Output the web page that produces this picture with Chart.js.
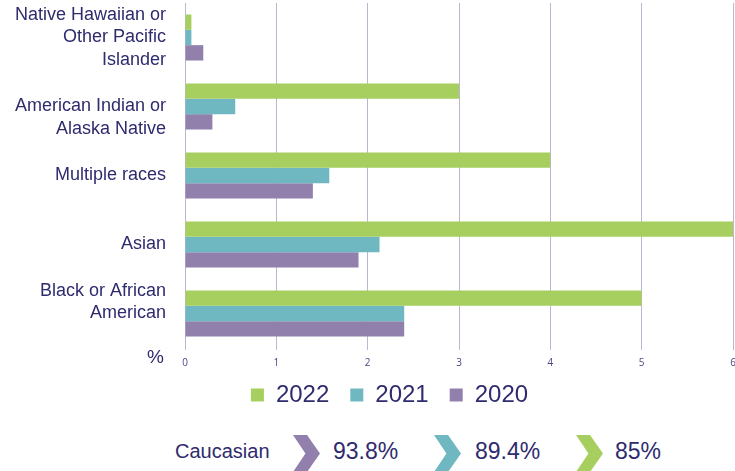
<!DOCTYPE html>
<html>
<head>
<meta charset="utf-8">
<script src="https://cdn.jsdelivr.net/npm/chart.js@4.4.1/dist/chart.umd.min.js"></script>
<style>
  html, body { margin: 0; padding: 0; background: #fff; }
  #wrap { position: relative; width: 735px; height: 471px; overflow: hidden; font-family: "Liberation Sans", Arial, sans-serif; color: #2e2b6e; }
  /* canvas runs past the right edge so the "6" tick gets cut like in the original */
  #chartBox { position: absolute; left: 0; top: 0; width: 779px; height: 431px; }
  #pct { position: absolute; left: 147px; top: 346px; font-size: 19px; }
  .row-item { position: absolute; white-space: nowrap; }
  .chev { position: absolute; top: 435px; width: 27px; height: 37px;
          clip-path: polygon(0 0, 52% 0, 100% 50%, 52% 100%, 0 100%, 46% 50%); }
</style>
</head>
<body>
<div id="wrap">
  <div id="chartBox"><canvas id="raceChart"></canvas></div>
  <div id="pct">%</div>
  <div id="caucasianRow"></div>
</div>
<script>
// categories (top to bottom)
const categories = [
  ['Native Hawaiian or', 'Other Pacific', 'Islander'],
  ['American Indian or', 'Alaska Native'],
  'Multiple races',
  'Asian',
  ['Black or African', 'American'],
];
const seriesNames = ['2022', '2021', '2020'];
const values2022 = [0.07, 3.0, 4.0, 6.0, 5.0];
const values2021 = [0.07, 0.55, 1.58, 2.13, 2.4];
const values2020 = [0.2, 0.3, 1.4, 1.9, 2.4];
const xTicks = [0, 1, 2, 3, 4, 5, 6];

// Caucasian share shown under the chart (2020, 2021, 2022)
const caucasianLabel = 'Caucasian';
const caucasianValues = ['93.8%', '89.4%', '85%'];

const GREEN = '#a6cf5f';
const TEAL = '#6fb8c2';
const PURPLE = '#9080ab';
const NAVY = '#2e2b6e';

// the original wraps two labels a little off-centre; nudge them with an empty line
function tickLabel(value, index) {
  const lbl = categories[index];
  if (index === 1) return [''].concat(lbl);
  if (index === 4) return lbl.concat(['']);
  return lbl;
}

// legend sits right of the canvas centre and a little higher in the original
const legendShift = {
  id: 'legendShift',
  afterLayout(chart) {
    const lg = chart.legend;
    lg.left += 23;
    lg.right += 23;
    lg.top -= 14;
    lg.bottom -= 14;
  },
};

new Chart(document.getElementById('raceChart'), {
  type: 'bar',
  data: {
    labels: categories,
    datasets: [
      { label: seriesNames[0], data: values2022, backgroundColor: GREEN },
      { label: seriesNames[1], data: values2021, backgroundColor: TEAL },
      { label: seriesNames[2], data: values2020, backgroundColor: PURPLE },
    ],
  },
  options: {
    indexAxis: 'y',
    responsive: true,
    maintainAspectRatio: false,
    animation: false,
    layout: { padding: { left: 0, top: 3, right: 46, bottom: 0 } },
    datasets: { bar: { categoryPercentage: 0.667, barPercentage: 1.0 } },
    scales: {
      x: {
        min: 0,
        max: 6,
        afterBuildTicks: (scale) => { scale.ticks = xTicks.map((v) => ({ value: v })); },
        grid: { color: '#bdb6d3', lineWidth: 1, drawTicks: true, tickLength: 2 },
        border: { display: false },
        ticks: { color: '#4b4785', font: { size: 10, family: 'Open Sans' }, padding: 7 },
      },
      y: {
        grid: { display: false, drawTicks: false },
        border: { display: false },
        ticks: { color: NAVY, font: { size: 18, family: 'Liberation Sans', lineHeight: 1.25 }, padding: 19, autoSkip: false, callback: tickLabel },
        afterFit: (scale) => {
          scale.width = 185;
          scale.paddingTop = 0;
          scale.paddingBottom = 0;
        },
      },
    },
    plugins: {
      tooltip: { enabled: false },
      legend: {
        position: 'bottom',
        labels: {
          boxWidth: 13,
          boxHeight: 13,
          padding: 21,
          color: NAVY,
          font: { size: 24, family: 'Liberation Sans' },
        },
      },
    },
  },
  plugins: [legendShift],
});

// Caucasian row: label, then chevron + value per year
const row = document.getElementById('caucasianRow');
const chevColors = [PURPLE, TEAL, GREEN];
const chevX = [293, 434, 576];
const valX = [333, 475, 615];
row.innerHTML = `<div class="row-item" style="left:175px; top:440px; font-size:20px;">${caucasianLabel}</div>` +
  caucasianValues.map((v, i) => `
    <div class="chev" style="left:${chevX[i]}px; background:${chevColors[i]};"></div>
    <div class="row-item" style="left:${valX[i]}px; top:438px; font-size:23px;">${v}</div>`).join('');
</script>
</body>
</html>
